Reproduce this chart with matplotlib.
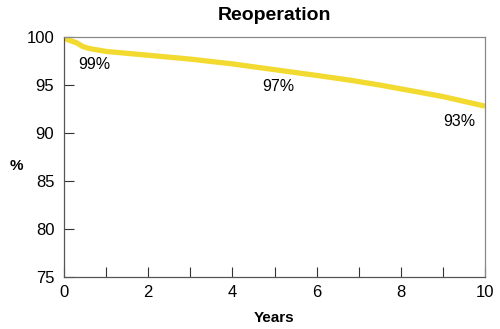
import matplotlib.pyplot as plt
import numpy as np

years = [0.0, 0.1, 0.3, 0.45, 0.6, 1.0, 1.5, 2.0, 3.0, 4.0, 5.0, 6.0, 6.8, 7.5, 8.0, 9.0, 10.0]
survival = [99.9, 99.7, 99.4, 99.0, 98.8, 98.5, 98.3, 98.1, 97.7, 97.2, 96.6, 96.0, 95.5, 95.0, 94.6, 93.8, 92.8]

labels = ["99%", "97%", "93%"]
label_x = [0.72, 5.08, 9.39]
label_y = [97.1, 94.8, 91.25]

FONT = "Liberation Sans"

fig = plt.figure(figsize=(5, 3.29), dpi=100)
ax = fig.add_axes([0.128, 0.158, 0.842, 0.7295])

ax.plot(years, survival, color="#F2DA30", linewidth=3.8, solid_capstyle="butt")

for txt, x, y in zip(labels, label_x, label_y):
    ax.text(x, y, txt, ha="center", va="center", fontsize=11.5, family=FONT)

ax.set_xlim(0, 10)
ax.set_ylim(75, 100)
ax.set_xticks(np.arange(0, 11, 2))
ax.set_xticks(np.arange(1, 10, 2), minor=True)
ax.set_yticks(np.arange(75, 101, 5))
ax.tick_params(axis="both", which="both", direction="in", length=7.5, width=0.8,
               color="#333333", labelsize=12)
ax.tick_params(axis="x", pad=6)
ax.tick_params(axis="y", pad=7)
for lab in ax.get_xticklabels() + ax.get_yticklabels():
    lab.set_family(FONT)

for side in ["top", "right"]:
    ax.spines[side].set_color("#888888")
for side in ["left", "bottom"]:
    ax.spines[side].set_color("#555555")
for sp in ax.spines.values():
    sp.set_linewidth(0.9)

ax.set_title("Reoperation", fontsize=14, fontweight="bold", family=FONT, pad=12)
ax.set_xlabel("Years", fontsize=11, fontweight="bold", family=FONT, labelpad=8)
fig.text(0.032, 0.495, "%", fontsize=11, fontweight="bold", family=FONT,
         ha="center", va="center")

fig.savefig("out.png", dpi=100)
